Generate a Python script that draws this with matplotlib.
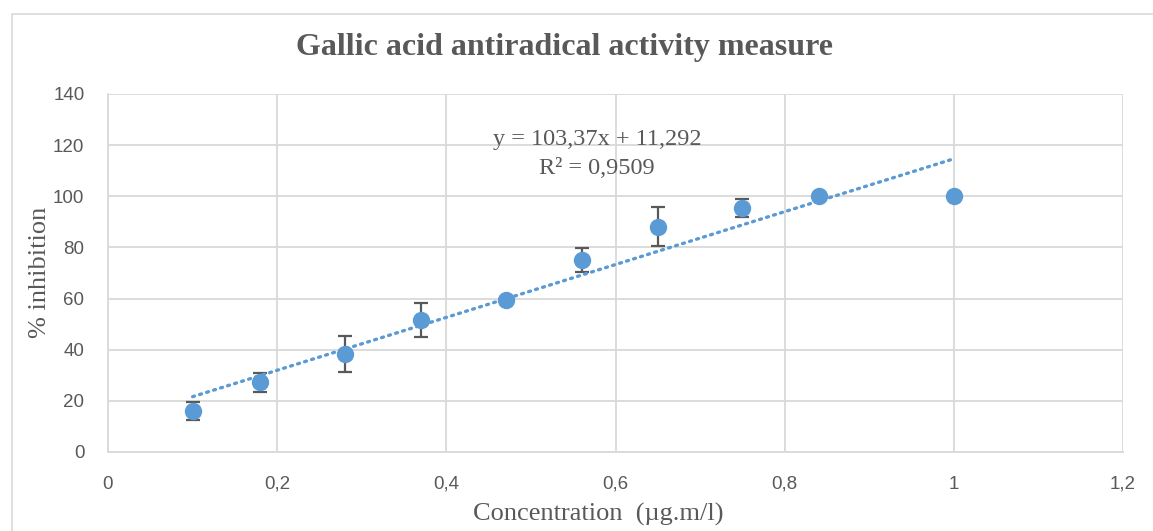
"""Gallic acid antiradical activity (DPPH) scatter with linear trend."""

import numpy as np
import matplotlib.pyplot as plt
from matplotlib.patches import Rectangle
from matplotlib.ticker import FuncFormatter

# -- Data --
concentration = [0.1, 0.18, 0.28, 0.37, 0.47, 0.56, 0.65, 0.75, 0.84, 1.0]
inhibition = [16.0, 27.3, 38.3, 51.6, 59.5, 75.0, 88.1, 95.3, 100.0, 100.0]
inhibition_err = [3.5, 3.7, 7.0, 6.6, 0.8, 4.7, 7.7, 3.5, 0.5, 0.0]

slope = 103.37
intercept = 11.292
r_squared = 0.9509

x_ticks = [0, 0.2, 0.4, 0.6, 0.8, 1.0, 1.2]
y_ticks = [0, 20, 40, 60, 80, 100, 120, 140]

# -- Style --
BLUE = "#5b9bd5"
DARK = "#595959"
GRID = "#d9d9d9"
SERIF = "Liberation Serif"
SANS = "Liberation Sans"

fig = plt.figure(figsize=(11.53, 5.31), dpi=100)

# outer chart border
fig.patches.append(Rectangle((12 / 1153, -0.01), 1.1, 1 - 14 / 531 + 0.01,
                             transform=fig.transFigure, fill=False,
                             edgecolor="#d9d9d9", linewidth=1.2))

ax = fig.add_axes([108 / 1153, 1 - 452 / 531, (1123 - 108) / 1153, (452 - 94) / 531])

ax.errorbar(concentration, inhibition, yerr=inhibition_err, fmt="none",
            ecolor=DARK, elinewidth=1.6, capsize=5, capthick=1.6, zorder=3)
ax.plot(concentration, inhibition, "o", color=BLUE, markersize=11.5, zorder=4)

xs = np.array([concentration[0], concentration[-1]])
ax.plot(xs, slope * xs + intercept, color=BLUE, linewidth=2.4,
        linestyle=(0, (0.6, 1.6)), dash_capstyle="round", zorder=5)

ax.set_xlim(0, 1.2)
ax.set_ylim(0, 140)
ax.set_xticks(x_ticks)
ax.set_yticks(y_ticks)
ax.xaxis.set_major_formatter(FuncFormatter(lambda v, p: f"{v:g}".replace(".", ",")))
ax.tick_params(axis="x", length=0, labelsize=13.5, labelcolor=DARK, pad=17)
ax.tick_params(axis="y", length=0, labelsize=13.5, labelcolor=DARK, pad=17)
for lab in ax.get_xticklabels() + ax.get_yticklabels():
    lab.set_fontfamily(SANS)
ax.grid(True, color=GRID, linewidth=1.3)
ax.set_axisbelow(True)
for side in ["top", "right"]:
    ax.spines[side].set_visible(False)
for side in ["left", "bottom"]:
    ax.spines[side].set_color(GRID)
    ax.spines[side].set_linewidth(1.3)

ax.text(597 / 1153, 1 - 140 / 531, f"y = {slope:g}x + {intercept:g}".replace(".", ","),
        transform=fig.transFigure, ha="center", va="center",
        fontsize=17.5, color=DARK, family=SERIF)
ax.text(597 / 1153, 1 - 168 / 531, f"R² = {r_squared:g}".replace(".", ","),
        transform=fig.transFigure, ha="center", va="center",
        fontsize=17.5, color=DARK, family=SERIF)

fig.text(565 / 1153, 1 - 47 / 531, "Gallic acid antiradical activity measure",
         ha="center", va="center", fontsize=23, fontweight="bold",
         color=DARK, family=SERIF)
fig.text(40 / 1153, 1 - 272 / 531, "% inhibition", rotation=90,
         ha="center", va="center", fontsize=19, color=DARK, family=SERIF)
fig.text(598 / 1153, 1 - 514 / 531, "Concentration  (µg.m/l)",
         ha="center", va="center", fontsize=19, color=DARK, family=SERIF)

fig.savefig("out.png", dpi=100)
